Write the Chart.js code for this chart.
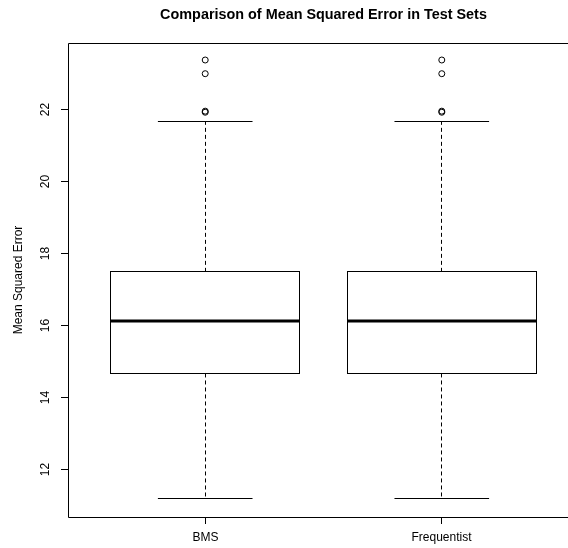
<!DOCTYPE html>
<html>
<head>
<meta charset="utf-8">
<script src="https://cdn.jsdelivr.net/npm/chart.js@4"></script>
<style>
    html, body { margin: 0; padding: 0; background: #fff; overflow: hidden; }
    #wrap { width: 568px; height: 548px; overflow: hidden; }
</style>
</head>
<body>
<div id="wrap"><canvas id="chart" width="600" height="548"></canvas></div>
<script>
// boxplot stats (both groups look the same)
const categories = ["BMS", "Frequentist"];
const lowerWhisker = [11.18, 11.18];
const q1 = [14.66, 14.66];
const median = [16.11, 16.11];
const q3 = [17.48, 17.48];
const upperWhisker = [21.65, 21.65];
const outliersBMS = [23.36, 22.98, 21.94, 21.91];
const outliersFreq = [23.36, 22.98, 21.94, 21.91];
const yTicks = [12, 14, 16, 18, 20, 22];

const FONT = '"Liberation Sans", Arial, Helvetica, sans-serif';
const half = (v) => Math.floor(v) + 0.5;

const boxPlugin = {
    id: "rBoxplot",
    beforeDatasetsDraw(chart) {
        const { ctx, chartArea: a, scales: { x, y } } = chart;
        ctx.save();
        ctx.strokeStyle = "#000";
        ctx.lineWidth = 1;

        categories.forEach((c, i) => {
            const cx = x.getPixelForValue(i + 1);
            const bl = x.getPixelForValue(i + 1 - 0.4);
            const br = x.getPixelForValue(i + 1 + 0.4);
            const cl = x.getPixelForValue(i + 1 - 0.2);
            const cr = x.getPixelForValue(i + 1 + 0.2);
            const yLo = y.getPixelForValue(lowerWhisker[i]);
            const yQ1 = y.getPixelForValue(q1[i]);
            const yMed = y.getPixelForValue(median[i]);
            const yQ3 = y.getPixelForValue(q3[i]);
            const yHi = y.getPixelForValue(upperWhisker[i]);

            // dashed whiskers
            ctx.setLineDash([4, 3]);
            ctx.beginPath();
            ctx.moveTo(half(cx), yQ3);
            ctx.lineTo(half(cx), yHi);
            ctx.moveTo(half(cx), yQ1);
            ctx.lineTo(half(cx), yLo);
            ctx.stroke();
            ctx.setLineDash([]);

            // caps
            ctx.beginPath();
            ctx.moveTo(cl, half(yHi));
            ctx.lineTo(cr, half(yHi));
            ctx.moveTo(cl, half(yLo));
            ctx.lineTo(cr, half(yLo));
            ctx.stroke();

            // box
            ctx.fillStyle = "#fff";
            ctx.fillRect(bl, yQ3, br - bl, yQ1 - yQ3);
            ctx.strokeRect(half(bl), half(yQ3), Math.round(br - bl), Math.round(yQ1 - yQ3));

            // median
            ctx.lineWidth = 3;
            ctx.beginPath();
            ctx.moveTo(half(bl), Math.round(yMed));
            ctx.lineTo(half(br), Math.round(yMed));
            ctx.stroke();
            ctx.lineWidth = 1;
        });

        // frame
        ctx.beginPath();
        ctx.moveTo(half(a.right), half(a.top));
        ctx.lineTo(half(a.left), half(a.top));
        ctx.lineTo(half(a.left), half(a.bottom));
        ctx.lineTo(half(a.right), half(a.bottom));
        ctx.lineTo(half(a.right), half(a.top));
        ctx.stroke();

        // y axis ticks and labels
        ctx.fillStyle = "#000";
        ctx.font = "12px " + FONT;
        ctx.textAlign = "center";
        ctx.textBaseline = "middle";
        yTicks.forEach((t) => {
            const py = half(y.getPixelForValue(t));
            ctx.beginPath();
            ctx.moveTo(a.left - 7, py);
            ctx.lineTo(a.left, py);
            ctx.stroke();
            ctx.save();
            ctx.translate(46, py);
            ctx.rotate(-Math.PI / 2);
            ctx.fillText(String(t), 0, 0);
            ctx.restore();
        });

        // x axis ticks and labels
        categories.forEach((c, i) => {
            const px = half(x.getPixelForValue(i + 1));
            ctx.beginPath();
            ctx.moveTo(px, a.bottom);
            ctx.lineTo(px, a.bottom + 7);
            ctx.stroke();
            ctx.fillText(c, px, 538);
        });

        // axis title
        ctx.save();
        ctx.translate(19, (a.top + a.bottom) / 2);
        ctx.rotate(-Math.PI / 2);
        ctx.fillText("Mean Squared Error", 0, 0);
        ctx.restore();

        // main title
        ctx.font = "bold 14.4px " + FONT;
        ctx.fillText("Comparison of Mean Squared Error in Test Sets", (a.left + a.right) / 2, 15);

        ctx.restore();
    },
};

const toPoints = (vals, xi) => vals.map((v) => ({ x: xi, y: v }));

new Chart(document.getElementById("chart"), {
    type: "scatter",
    data: {
        datasets: [
            {
                label: categories[0],
                data: toPoints(outliersBMS, 1),
            },
            {
                label: categories[1],
                data: toPoints(outliersFreq, 2),
            },
        ],
    },
    options: {
        responsive: false,
        animation: false,
        devicePixelRatio: 1,
        layout: { padding: { left: 68, top: 43, right: 21, bottom: 31 } },
        elements: {
            point: {
                pointStyle: "circle",
                radius: 3,
                borderWidth: 1,
                borderColor: "#000",
                backgroundColor: "rgba(0,0,0,0)",
            },
        },
        plugins: {
            legend: { display: false },
            tooltip: { enabled: false },
            title: { display: false },
        },
        scales: {
            x: { type: "linear", min: 0.42, max: 2.58, display: false },
            y: { type: "linear", min: 10.676, max: 23.832, display: false },
        },
    },
    plugins: [boxPlugin],
});
</script>
</body>
</html>
